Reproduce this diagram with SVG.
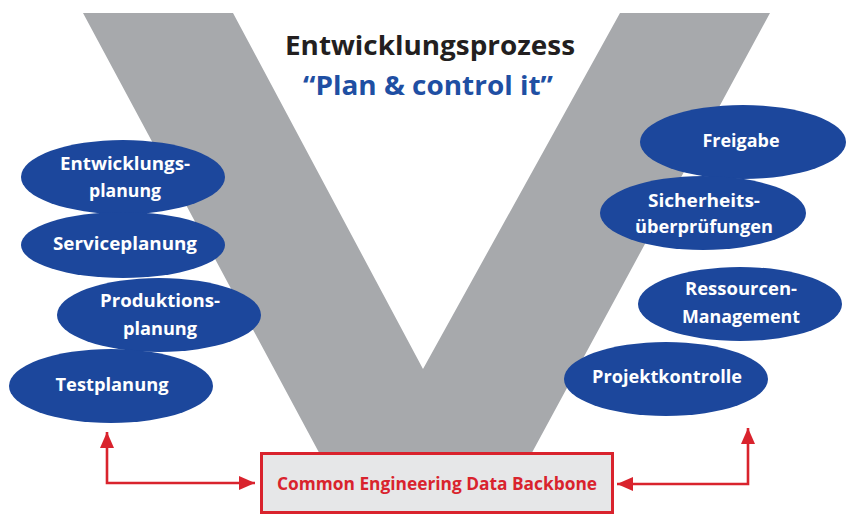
<svg xmlns="http://www.w3.org/2000/svg" width="856" height="517" viewBox="0 0 856 517">
<defs>
<style>
.ell{fill:#1c479c}
.lbl{font-family:"Open Sans","Liberation Sans",sans-serif;font-weight:bold;font-size:17px;fill:#ffffff;text-anchor:middle}
.con{fill:none;stroke:#d9232d;stroke-width:2.6}
</style>
<marker id="ah" viewBox="0 0 16 14" refX="16" refY="7" markerWidth="16" markerHeight="14" markerUnits="userSpaceOnUse" orient="auto-start-reverse">
<path d="M0,0 L16,7 L0,14 z" fill="#d9232d"/>
</marker>
</defs>
<rect width="856" height="517" fill="#ffffff"/>
<g id="v-shape">
<polygon points="83,13 233,13 423,369 620,13 770,13 528,460 323,460" fill="#a7a9ac"/>
</g>
<g id="title">
<text x="430" y="55" text-anchor="middle" font-family="Open Sans,Liberation Sans,sans-serif" font-weight="bold" font-size="27" fill="#231f20" textLength="290" lengthAdjust="spacingAndGlyphs">Entwicklungsprozess</text>
<text x="428" y="95" text-anchor="middle" font-family="Open Sans,Liberation Sans,sans-serif" font-weight="bold" font-size="27" fill="#1f4fa3" textLength="250" lengthAdjust="spacingAndGlyphs">“Plan &amp; control it”</text>
</g>
<g id="entwicklungsplanung">
<ellipse class="ell" cx="123" cy="177" rx="102" ry="37"/>
<text class="lbl" x="125" y="170" textLength="130" lengthAdjust="spacingAndGlyphs">Entwicklungs-</text>
<text class="lbl" x="125" y="197" textLength="72" lengthAdjust="spacingAndGlyphs">planung</text>
</g>
<g id="serviceplanung">
<ellipse class="ell" cx="123" cy="245" rx="102" ry="33"/>
<text class="lbl" x="125" y="250" textLength="144" lengthAdjust="spacingAndGlyphs">Serviceplanung</text>
</g>
<g id="produktionsplanung">
<ellipse class="ell" cx="159" cy="315" rx="102" ry="37"/>
<text class="lbl" x="160" y="307" textLength="120" lengthAdjust="spacingAndGlyphs">Produktions-</text>
<text class="lbl" x="160" y="335" textLength="74" lengthAdjust="spacingAndGlyphs">planung</text>
</g>
<g id="testplanung">
<ellipse class="ell" cx="111" cy="386" rx="102" ry="37"/>
<text class="lbl" x="112" y="391" textLength="113" lengthAdjust="spacingAndGlyphs">Testplanung</text>
</g>
<g id="freigabe">
<ellipse class="ell" cx="743" cy="142" rx="103" ry="37"/>
<text class="lbl" x="741" y="147" textLength="77" lengthAdjust="spacingAndGlyphs">Freigabe</text>
</g>
<g id="sicherheitsueberpruefungen">
<ellipse class="ell" cx="703" cy="213" rx="103" ry="37"/>
<text class="lbl" x="704" y="207" textLength="112" lengthAdjust="spacingAndGlyphs">Sicherheits-</text>
<text class="lbl" x="704" y="233" textLength="138" lengthAdjust="spacingAndGlyphs">überprüfungen</text>
</g>
<g id="ressourcen-management">
<ellipse class="ell" cx="740" cy="304" rx="102" ry="37"/>
<text class="lbl" x="741" y="295" textLength="112" lengthAdjust="spacingAndGlyphs">Ressourcen-</text>
<text class="lbl" x="741" y="323" textLength="118" lengthAdjust="spacingAndGlyphs">Management</text>
</g>
<g id="projektkontrolle">
<ellipse class="ell" cx="666" cy="379" rx="102" ry="37"/>
<text class="lbl" x="667" y="383" textLength="150" lengthAdjust="spacingAndGlyphs">Projektkontrolle</text>
</g>
<g id="backbone">
<rect x="261.5" y="453.5" width="351" height="59" fill="#e6e7e8" stroke="#d9232d" stroke-width="3"/>
<text x="437" y="490" text-anchor="middle" font-family="Open Sans,Liberation Sans,sans-serif" font-weight="bold" font-size="17" fill="#d9232d" textLength="320" lengthAdjust="spacingAndGlyphs">Common Engineering Data Backbone</text>
</g>
<g id="connectors">
<path class="con" d="M255,483 L107,483 L107,432" marker-start="url(#ah)" marker-end="url(#ah)"/>
<path class="con" d="M617,484 L748,484 L748,428" marker-start="url(#ah)" marker-end="url(#ah)"/>
</g>
</svg>
